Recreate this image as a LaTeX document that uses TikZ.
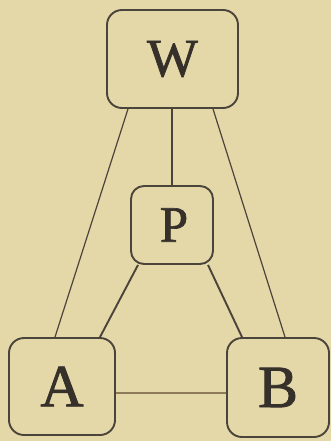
\documentclass[tikz,border=0pt]{standalone}
\usepackage{fontspec}
\setmainfont{Liberation Serif}
\newfontfamily\letterfont[FakeBold=1.3]{Liberation Serif}
\usetikzlibrary{calc}
\definecolor{paper}{HTML}{E4D7A8}
\definecolor{ink}{HTML}{4A443A}
\definecolor{letter}{HTML}{35302A}
\definecolor{tan}{HTML}{8E7A58}
\tikzset{
  x=1pt, y=-1pt,
  box/.style={draw=ink, line width=1.9pt, rounded corners=15pt, inner sep=0pt,
    text=letter, anchor=center},
  thin link/.style={draw=ink, line width=1.2pt},
  thick link/.style={draw=ink, line width=1.9pt},
  base link/.style={draw=tan, line width=1.4pt},
}
\begin{document}
\begin{tikzpicture}
  \fill[paper] (0,0) rectangle (331,441);
  \useasboundingbox (0,0) rectangle (331,441);

  \node[box, minimum width=131pt, minimum height=98pt,
        font=\letterfont\fontsize{54}{54}\selectfont] (W) at (172.5,59) {W};
  \node[box, minimum width=82pt, minimum height=78pt, rounded corners=13pt,
        font=\letterfont\fontsize{51}{51}\selectfont] (P) at (172,225) {\hspace*{4pt}P};
  \node[box, minimum width=106pt, minimum height=97pt,
        font=\letterfont\fontsize{60}{60}\selectfont] (A) at (62,386.5) {A};
  \node[box, minimum width=102pt, minimum height=99pt,
        font=\letterfont\fontsize{60}{60}\selectfont] (B) at (278,387.5) {B};

  % outer edges from W down to the base corners
  \draw[thin link] ([xshift=-44.5pt]W.south) -- ([xshift=-7pt]A.north);
  \draw[thin link] ([xshift=-0.5pt]W.south) -- (P.north);
  \draw[thin link] ([xshift=40.5pt]W.south) -- ([xshift=7pt]B.north);
  % inner edges from P
  \draw[thick link] ([xshift=-34pt]P.south) -- ([xshift=38pt]A.north);
  \draw[thick link] ([xshift=36pt]P.south) -- ([xshift=-36pt]B.north);
  % base edge
  \draw[base link] ([yshift=-6.5pt]A.east) -- ([yshift=-5.5pt]B.west);
\end{tikzpicture}
\end{document}
